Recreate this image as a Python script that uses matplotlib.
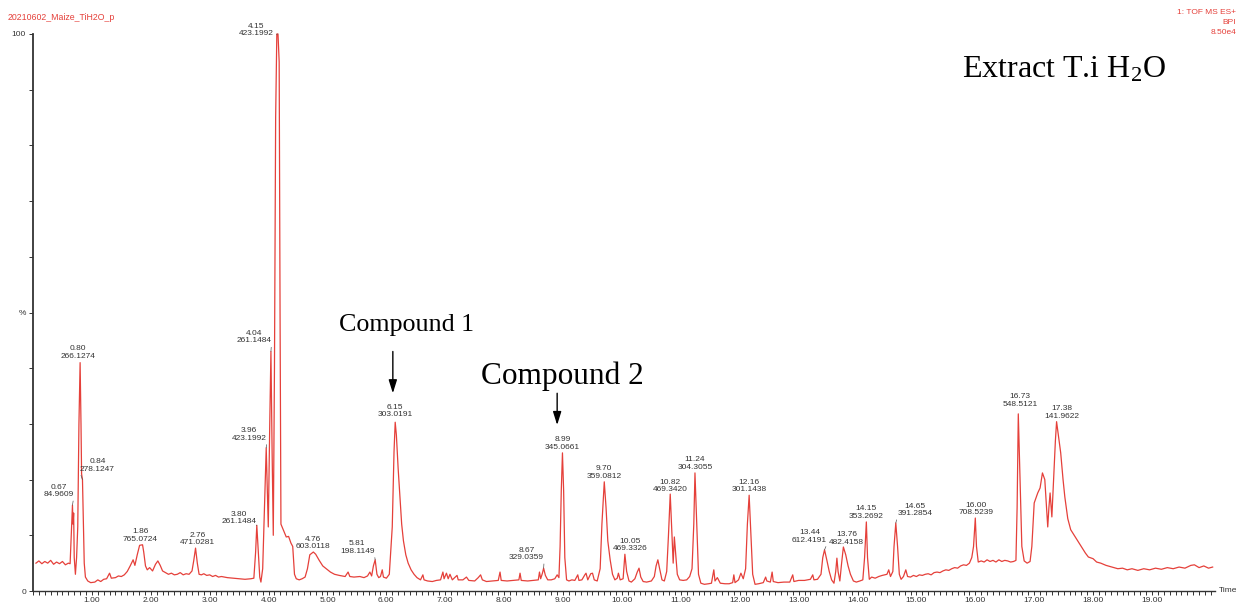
import matplotlib
matplotlib.use("Agg")
import matplotlib.pyplot as plt
from matplotlib.ticker import FixedLocator, MultipleLocator, FuncFormatter

# chromatogram trace: (retention time [min], relative intensity [%])
trace_points = [
    (0.05, 5.0), (0.10, 5.4), (0.15, 4.9), (0.20, 5.3), (0.25, 5.0), (0.30, 5.5),
    (0.35, 4.8), (0.40, 5.2), (0.45, 4.9), (0.50, 5.3), (0.55, 4.7), (0.60, 5.0),
    (0.63, 4.9), (0.65, 10.0), (0.67, 15.4), (0.68, 12.0), (0.69, 14.0), (0.70, 6.0),
    (0.72, 3.0), (0.74, 6.0), (0.76, 11.5), (0.78, 30.0), (0.80, 41.0), (0.815, 30.0),
    (0.825, 21.0), (0.84, 20.0), (0.855, 12.0), (0.87, 5.0), (0.89, 2.5), (0.93, 1.8),
    (0.98, 1.5), (1.05, 1.6), (1.10, 2.0), (1.15, 1.7), (1.20, 2.1), (1.25, 2.2),
    (1.30, 3.2), (1.33, 2.3), (1.40, 2.4), (1.45, 2.7), (1.50, 2.6), (1.55, 2.9),
    (1.60, 3.5), (1.65, 4.5), (1.70, 5.6), (1.73, 4.6), (1.77, 6.5), (1.81, 8.2),
    (1.86, 8.3), (1.88, 7.0), (1.91, 4.5), (1.94, 3.8), (1.98, 4.2), (2.03, 3.6),
    (2.08, 4.8), (2.12, 5.4), (2.16, 4.6), (2.20, 3.6), (2.25, 3.3), (2.30, 3.0),
    (2.35, 3.2), (2.40, 2.9), (2.45, 3.0), (2.50, 3.3), (2.55, 2.9), (2.60, 3.1),
    (2.65, 3.0), (2.70, 3.6), (2.73, 5.5), (2.76, 7.7), (2.79, 5.0), (2.82, 3.0),
    (2.86, 2.9), (2.90, 3.1), (2.95, 2.8), (3.00, 2.9), (3.05, 2.6), (3.10, 2.8),
    (3.15, 2.5), (3.20, 2.6), (3.30, 2.4), (3.40, 2.3), (3.50, 2.2), (3.60, 2.1),
    (3.70, 2.2), (3.75, 2.3), (3.78, 7.0), (3.80, 11.8), (3.82, 8.0), (3.85, 2.5),
    (3.87, 1.6), (3.90, 4.0), (3.93, 15.0), (3.96, 25.7), (3.98, 18.0), (3.995, 11.5),
    (4.02, 30.0), (4.04, 43.0), (4.06, 25.0), (4.08, 10.0), (4.10, 40.0), (4.12, 85.0),
    (4.14, 100.0), (4.15, 100.0), (4.16, 100.0), (4.18, 95.0), (4.195, 50.0), (4.21, 12.0),
    (4.23, 11.5), (4.27, 10.5), (4.30, 9.7), (4.34, 9.8), (4.38, 8.6), (4.41, 8.0),
    (4.44, 3.0), (4.47, 2.2), (4.52, 2.0), (4.57, 2.2), (4.62, 2.5), (4.66, 4.0),
    (4.70, 6.5), (4.76, 7.0), (4.80, 6.6), (4.86, 5.5), (4.92, 4.5), (4.98, 4.0),
    (5.05, 3.4), (5.12, 3.0), (5.20, 2.8), (5.30, 2.6), (5.35, 3.4), (5.38, 2.6),
    (5.45, 2.5), (5.55, 2.6), (5.62, 2.4), (5.68, 2.7), (5.72, 3.4), (5.75, 2.7),
    (5.78, 4.5), (5.81, 5.6), (5.84, 3.0), (5.87, 2.4), (5.90, 2.6), (5.93, 3.8),
    (5.95, 2.5), (6.00, 2.3), (6.05, 3.0), (6.08, 8.0), (6.10, 11.5), (6.13, 25.0),
    (6.15, 30.3), (6.17, 28.0), (6.20, 22.0), (6.23, 17.0), (6.26, 12.0), (6.29, 9.0),
    (6.33, 6.5), (6.37, 5.0), (6.42, 3.8), (6.47, 3.0), (6.52, 2.4), (6.58, 2.0),
    (6.62, 2.9), (6.64, 2.0), (6.70, 1.8), (6.78, 1.7), (6.85, 1.9), (6.92, 2.0),
    (6.96, 3.4), (6.98, 2.2), (7.02, 3.2), (7.05, 2.2), (7.08, 3.0), (7.12, 2.0),
    (7.20, 2.8), (7.22, 2.0), (7.30, 2.0), (7.36, 2.5), (7.40, 1.9), (7.50, 1.8),
    (7.56, 2.4), (7.60, 2.9), (7.63, 2.0), (7.70, 1.7), (7.80, 1.8), (7.90, 1.9),
    (7.93, 3.4), (7.95, 1.9), (8.05, 1.8), (8.15, 1.9), (8.25, 2.0), (8.27, 3.2),
    (8.29, 1.9), (8.40, 1.8), (8.50, 1.9), (8.58, 2.0), (8.60, 3.4), (8.62, 2.2),
    (8.65, 3.2), (8.67, 4.1), (8.70, 2.8), (8.74, 2.0), (8.80, 2.0), (8.86, 2.2),
    (8.90, 2.9), (8.93, 2.4), (8.95, 8.0), (8.97, 18.0), (8.99, 24.8), (9.01, 18.0),
    (9.03, 6.0), (9.06, 2.0), (9.10, 1.8), (9.15, 2.0), (9.20, 1.9), (9.25, 2.9),
    (9.27, 1.9), (9.32, 2.0), (9.37, 2.9), (9.39, 3.2), (9.42, 2.0), (9.47, 3.1),
    (9.50, 3.2), (9.53, 2.0), (9.58, 1.8), (9.63, 4.0), (9.66, 12.0), (9.70, 19.6),
    (9.73, 15.0), (9.76, 9.0), (9.80, 5.6), (9.84, 3.0), (9.88, 2.0), (9.92, 2.3),
    (9.94, 3.2), (9.97, 2.0), (10.02, 2.2), (10.05, 6.6), (10.08, 3.5), (10.12, 1.8),
    (10.16, 1.6), (10.22, 2.2), (10.26, 3.4), (10.29, 4.1), (10.32, 2.5), (10.36, 1.7),
    (10.42, 1.6), (10.50, 1.8), (10.55, 2.6), (10.58, 4.5), (10.61, 5.6), (10.64, 4.0),
    (10.68, 2.0), (10.72, 1.8), (10.76, 3.5), (10.79, 10.0), (10.82, 17.4), (10.85, 10.0),
    (10.87, 5.0), (10.89, 9.7), (10.91, 7.0), (10.94, 3.0), (10.98, 2.0), (11.04, 1.9),
    (11.10, 2.0), (11.15, 2.6), (11.19, 4.0), (11.22, 12.0), (11.24, 21.2), (11.27, 12.0),
    (11.30, 3.0), (11.34, 1.4), (11.40, 1.2), (11.47, 1.3), (11.52, 1.4), (11.56, 3.8),
    (11.58, 1.8), (11.62, 2.4), (11.67, 1.4), (11.75, 1.3), (11.82, 1.3), (11.88, 1.5),
    (11.90, 2.9), (11.92, 1.5), (11.98, 2.0), (12.02, 3.2), (12.06, 2.2), (12.10, 4.0),
    (12.13, 12.0), (12.16, 17.2), (12.19, 10.0), (12.22, 3.0), (12.26, 1.2), (12.32, 1.3),
    (12.40, 1.5), (12.44, 2.5), (12.46, 1.8), (12.52, 1.6), (12.55, 3.4), (12.57, 1.7),
    (12.65, 1.5), (12.75, 1.6), (12.85, 1.6), (12.90, 2.9), (12.92, 1.7), (13.00, 1.9),
    (13.10, 1.9), (13.20, 2.1), (13.24, 2.9), (13.26, 2.0), (13.32, 2.1), (13.38, 3.0),
    (13.41, 6.0), (13.44, 7.4), (13.48, 5.5), (13.52, 3.5), (13.56, 2.0), (13.60, 1.4),
    (13.63, 3.5), (13.65, 5.9), (13.67, 3.5), (13.70, 1.8), (13.73, 5.0), (13.76, 7.9),
    (13.80, 6.5), (13.84, 4.5), (13.88, 3.0), (13.93, 1.8), (13.98, 1.6), (14.04, 1.8),
    (14.09, 2.0), (14.12, 6.0), (14.15, 12.4), (14.17, 6.0), (14.20, 2.1), (14.24, 2.5),
    (14.30, 2.3), (14.36, 2.6), (14.42, 2.8), (14.50, 3.0), (14.53, 3.8), (14.56, 2.6),
    (14.60, 3.5), (14.62, 8.0), (14.65, 12.2), (14.68, 8.0), (14.71, 3.0), (14.74, 2.1),
    (14.78, 2.6), (14.82, 3.8), (14.85, 2.6), (14.90, 2.5), (14.95, 2.8), (15.00, 2.6),
    (15.05, 2.9), (15.10, 2.8), (15.15, 3.0), (15.20, 3.1), (15.25, 2.9), (15.30, 3.3),
    (15.35, 3.4), (15.40, 3.3), (15.45, 3.6), (15.50, 3.8), (15.55, 3.7), (15.60, 4.0),
    (15.65, 4.2), (15.70, 4.1), (15.75, 4.5), (15.80, 4.7), (15.85, 4.6), (15.90, 5.0),
    (15.94, 6.0), (15.97, 8.0), (16.00, 13.1), (16.02, 8.0), (16.05, 5.2), (16.10, 5.4),
    (16.15, 5.2), (16.20, 5.6), (16.25, 5.3), (16.30, 5.5), (16.35, 5.2), (16.40, 5.6),
    (16.45, 5.3), (16.50, 5.5), (16.55, 5.4), (16.60, 5.2), (16.65, 5.3), (16.69, 5.5),
    (16.71, 15.0), (16.73, 31.8), (16.76, 20.0), (16.79, 8.0), (16.83, 5.4), (16.88, 5.0),
    (16.93, 5.3), (16.96, 8.0), (17.00, 15.8), (17.06, 17.6), (17.10, 18.5), (17.14, 21.2),
    (17.18, 20.0), (17.21, 15.0), (17.23, 11.5), (17.25, 15.0), (17.27, 17.6), (17.30, 13.3),
    (17.33, 20.0), (17.36, 27.0), (17.38, 30.4), (17.41, 28.0), (17.45, 24.8), (17.49, 20.0),
    (17.52, 16.9), (17.57, 13.0), (17.62, 11.0), (17.68, 10.0), (17.73, 9.2), (17.80, 8.0),
    (17.87, 6.8), (17.92, 6.1), (18.00, 5.8), (18.06, 5.2), (18.13, 5.0), (18.22, 4.6),
    (18.32, 4.3), (18.42, 4.0), (18.50, 4.1), (18.58, 3.8), (18.66, 4.0), (18.76, 3.7),
    (18.86, 4.0), (18.96, 3.8), (19.06, 4.1), (19.16, 3.9), (19.26, 4.2), (19.36, 4.0),
    (19.46, 4.3), (19.56, 4.1), (19.66, 4.6), (19.72, 4.7), (19.80, 4.2), (19.88, 4.5),
    (19.96, 4.1), (20.03, 4.3),
]

# labelled peaks: retention time, base peak m/z, apex intensity
peak_rt = [0.67, 0.80, 0.84, 1.86, 2.76, 3.80, 3.96, 4.04, 4.15, 4.76, 5.81, 6.15, 8.67,
           8.99, 9.70, 10.05, 10.82, 11.24, 12.16, 13.44, 13.76, 14.15, 14.65, 16.00, 16.73, 17.38]
peak_mz = [84.9609, 266.1274, 278.1247, 765.0724, 471.0281, 261.1484, 423.1992, 261.1484,
           423.1992, 603.0118, 198.1149, 303.0191, 329.0359, 345.0661, 359.0812, 469.3326,
           469.3420, 304.3055, 301.1438, 612.4191, 482.4158, 353.2692, 391.2854, 708.5239,
           548.5121, 141.9622]
peak_pct = [15.4, 41.0, 20.0, 8.3, 7.7, 11.8, 25.7, 43.0, 100.0, 7.0, 5.6, 30.3, 4.1,
            24.8, 19.6, 6.6, 17.4, 21.2, 17.2, 7.4, 7.9, 12.4, 12.2, 13.1, 31.8, 30.4]

# where each label sits relative to its apex (pixels)
label_dx = [-14, -2, 15, -2, 2, -18, -17, -17, -21, 0, -18, 0, -17,
            0, 0, 5, 0, 0, 0, -15, 3, 0, 19, 1, 2, 5]
label_gap = [7, 3, 7, 2, 2, 0, 6, 7, -3, 2, 5, 4, 7,
             2, 2, 2, 1, 2, 2, 6, 1, 2, 6, 2, 6, 2]

compounds = ["Compound 1", "Compound 2"]
compound_rt = [6.15, 8.99]

RED = "#e5403a"
INK = "#333333"

plt.rcParams["mathtext.default"] = "regular"

fig = plt.figure(figsize=(12.38, 6.08), dpi=100)
ax = fig.add_axes([33 / 1238, 17 / 608, 1182 / 1238, 557 / 608])

t_vals = [p[0] for p in trace_points]
i_vals = [p[1] for p in trace_points]
ax.plot(t_vals, i_vals, color=RED, lw=0.9, clip_on=False)

ax.set_xlim(0, 20.07)
ax.set_ylim(0, 100)
for side in ("top", "right"):
    ax.spines[side].set_visible(False)
ax.spines["left"].set_color(INK)
ax.spines["left"].set_linewidth(1.3)
ax.spines["bottom"].set_color(INK)
ax.spines["bottom"].set_linewidth(1.0)

ax.xaxis.set_major_locator(FixedLocator(range(1, 20)))
ax.xaxis.set_minor_locator(MultipleLocator(0.1))
ax.xaxis.set_major_formatter(FuncFormatter(lambda v, _: f"{v:.2f}"))
ax.yaxis.set_major_locator(FixedLocator([0, 50, 100]))
ax.yaxis.set_minor_locator(MultipleLocator(10))
ax.yaxis.set_major_formatter(FuncFormatter(lambda v, _: {0: "0", 50: "%", 100: "100"}[int(v)]))
ax.tick_params(axis="both", which="both", colors=INK, labelsize=6, width=0.7)
ax.tick_params(axis="x", which="major", length=3, pad=1.5)
ax.tick_params(axis="x", which="minor", length=3)
ax.tick_params(axis="y", which="both", length=3, pad=2)
for lab in ax.get_xticklabels() + ax.get_yticklabels():
    lab.set_fontfamily("Liberation Sans")

ax.text(1.003, 0.0, "Time", transform=ax.transAxes, fontsize=6, color=INK,
        family="Liberation Sans", ha="left", va="center")

# peak labels
for rt, mz, pct, dx, gap in zip(peak_rt, peak_mz, peak_pct, label_dx, label_gap):
    leader = abs(dx) > 10
    props = None
    if leader:
        props = dict(arrowstyle="-", color="#555555", lw=0.5, shrinkA=0, shrinkB=0,
                     relpos=(1, 0) if dx < 0 else (0, 0))
    ax.annotate(f"{rt:.2f}\n{mz:.4f}", xy=(rt, pct), xytext=(dx, gap),
                textcoords="offset pixels", ha="center", va="bottom",
                fontsize=6, color=INK, family="Liberation Sans",
                linespacing=1.1, arrowprops=props, annotation_clip=False)

# compound call-outs
ax.annotate("", xy=(compound_rt[0] - 0.04, 35.5), xytext=(compound_rt[0] - 0.04, 43.0),
            arrowprops=dict(arrowstyle="-|>,head_width=0.25,head_length=0.8",
                            color="black", lw=1.0, shrinkA=0, shrinkB=0))
ax.text(compound_rt[0] + 0.2, 47.8, compounds[0], fontsize=18.7, family="Liberation Serif",
        ha="center", va="center", color="black")
ax.annotate("", xy=(compound_rt[1] - 0.09, 29.8), xytext=(compound_rt[1] - 0.09, 35.5),
            arrowprops=dict(arrowstyle="-|>,head_width=0.25,head_length=0.8",
                            color="black", lw=1.0, shrinkA=0, shrinkB=0))
ax.text(compound_rt[1] + 0.0, 38.6, compounds[1], fontsize=22.5, family="Liberation Serif",
        ha="center", va="center", color="black")

fig.text(1064 / 1238, 1 - 70 / 608, "Extract T.i H$_2$O", fontsize=23,
         family="Liberation Serif", ha="center", va="center", color="black")

# instrument header
fig.text(8 / 1238, 1 - 18 / 608, "20210602_Maize_TiH2O_p", fontsize=6.3, color=RED,
         family="Liberation Sans", ha="left", va="center")
fig.text(1236 / 1238, 1 - 13 / 608, "1: TOF MS ES+", fontsize=6, color=RED,
         family="Liberation Sans", ha="right", va="center")
fig.text(1236 / 1238, 1 - 23 / 608, "BPI", fontsize=6, color=RED,
         family="Liberation Sans", ha="right", va="center")
fig.text(1236 / 1238, 1 - 33 / 608, "8.50e4", fontsize=6, color=RED,
         family="Liberation Sans", ha="right", va="center")

fig.savefig("out.png", dpi=100)
